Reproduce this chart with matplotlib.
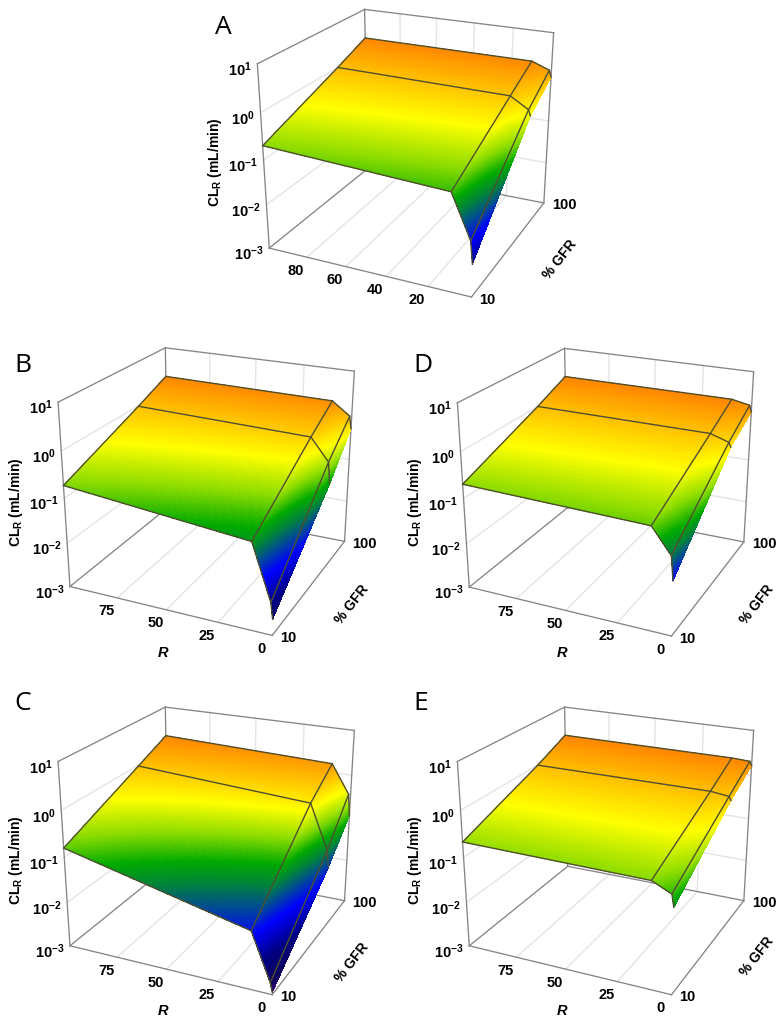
import numpy as np
import matplotlib
matplotlib.use("Agg")
import matplotlib.pyplot as plt
from matplotlib.colors import LinearSegmentedColormap
from mpl_toolkits.mplot3d import proj3d

plt.rcParams['font.family'] = ['Liberation Sans', 'DejaVu Sans']
plt.rcParams['font.weight'] = 'bold'
plt.rcParams['mathtext.fontset'] = 'custom'
plt.rcParams['mathtext.rm'] = 'Liberation Sans:bold'
plt.rcParams['mathtext.bf'] = 'Liberation Sans:bold'
plt.rcParams['mathtext.it'] = 'Liberation Sans:italic:bold'
plt.rcParams['mathtext.default'] = 'bf'

# mesh nodes of every surface
gfr_nodes = [100, 73, 10]
r_nodes = [100, 10, 1, 0]

# log10(CL_R) at the nodes, one row per R node, columns follow gfr_nodes
log_cl_a = [[0.32, 0.00, -0.70], [0.31, -0.05, -0.89], [0.16, -0.29, -1.81], [0.01, -0.42, -2.29]]
log_cl_b = [[0.32, -0.01, -0.73], [0.28, -0.11, -1.12], [-0.01, -0.60, -2.30], [-0.29, -1.08, -2.65]]
log_cl_c = [[0.32, -0.02, -0.80], [0.20, -0.26, -1.74], [-0.44, -1.25, -2.75], [-0.93, -1.63, -2.95]]
log_cl_d = [[0.33, 0.00, -0.69], [0.33, -0.02, -0.79], [0.25, -0.15, -1.31], [0.10, -0.25, -1.82]]
log_cl_e = [[0.33, 0.00, -0.67], [0.33, 0.00, -0.71], [0.31, -0.05, -0.90], [0.22, -0.13, -1.16]]

panel_names = ['A', 'B', 'C', 'D', 'E']
panel_values = [log_cl_a, log_cl_b, log_cl_c, log_cl_d, log_cl_e]

z_ticks = [1, 0, -1, -2, -3]
r_ticks_a = [20, 40, 60, 80]
r_ticks_other = [0, 25, 50, 75]
gfr_ticks = [10, 100]

# left, bottom of the square axes in pixels from the top left corner
AX_SIZE = 346.8
panel_origin = {'A': (44.8 + 190, 318.4), 'B': (35.5, 656.8), 'C': (35.5, 1016.1),
                'D': (434.8, 657.4), 'E': (434.8, 1016.1)}
letter_pos = {'A': (223, 27), 'B': (23, 365), 'C': (23, 704), 'D': (423, 365), 'E': (421, 704)}
cl_pos = {'A': (215, 162), 'B': (16, 502), 'C': (16, 860), 'D': (415, 502), 'E': (415, 860)}
gfr_pos = {'A': (560, 260), 'B': (352, 605), 'C': (352, 963), 'D': (757, 605), 'E': (757, 957)}
r_pos = {'B': (163, 653), 'C': (163, 1011), 'D': (562, 653), 'E': (562, 1011)}

W, H = 777, 1020
FRAME = '#858585'
GRID = '#e4e4e4'
MESH = '#4f4f30'

height_map = LinearSegmentedColormap.from_list('height', [
    (0.00, (70/255, 0, 130/255)),
    (0.0625, (15/255, 0, 90/255)),
    (0.175, (0, 0, 130/255)),
    (0.30, (0, 0, 1)),
    (0.3625, (0, 60/255, 170/255)),
    (0.44, (0, 130/255, 60/255)),
    (0.50, (0, 170/255, 0)),
    (0.575, (140/255, 220/255, 0)),
    (0.6625, (1, 1, 0)),
    (0.75, (1, 190/255, 0)),
    (0.84, (1, 128/255, 0)),
    (1.00, (1, 100/255, 0)),
])


def refine(nodes, n=70):
    # extra positions between nodes, only so the height colours come out smooth
    return np.linspace(0, len(nodes) - 1, (len(nodes) - 1) * n + 1)


def fine_surface(values):
    values = np.array(values, float)
    ri = refine(r_nodes)
    gi = refine(gfr_nodes)
    col = np.array([np.interp(ri, np.arange(len(r_nodes)), values[:, j]) for j in range(len(gfr_nodes))]).T
    z = np.array([np.interp(gi, np.arange(len(gfr_nodes)), row) for row in col])
    g = np.interp(gi, np.arange(len(gfr_nodes)), gfr_nodes)
    r = np.interp(ri, np.arange(len(r_nodes)), r_nodes)
    gg, rr = np.meshgrid(g, r)
    return gg, rr, z


def put_label(ax, x, y, z, text, dx, dy, **kw):
    u, v, _ = proj3d.proj_transform(x, y, z, ax.get_proj())
    ax.annotate(text, xy=(u, v), xytext=(dx * 0.72, -dy * 0.72), textcoords='offset points',
                fontsize=10.5, va='center', zorder=6, **kw)


def draw_box(ax, r_ticks):
    # back walls and floor
    for z in z_ticks[1:-1]:
        ax.plot([10, 100], [100, 100], [z, z], color=GRID, lw=1, zorder=1)
        ax.plot([100, 100], [100, 0], [z, z], color=GRID, lw=1, zorder=1)
    for r in r_ticks:
        if r == 0:
            continue
        ax.plot([100, 100], [r, r], [-3, 1], color=GRID, lw=1, zorder=1)
        ax.plot([10, 100], [r, r], [-3, -3], color=GRID, lw=1, zorder=1)
    edges = [([10, 100], [0, 0], [-3, -3]), ([10, 10], [0, 100], [-3, -3]),
             ([10, 100], [100, 100], [-3, -3]), ([100, 100], [0, 100], [-3, -3]),
             ([10, 10], [100, 100], [-3, 1]), ([100, 100], [100, 100], [-3, 1]),
             ([100, 100], [0, 0], [-3, 1]), ([10, 100], [100, 100], [1, 1]),
             ([100, 100], [0, 100], [1, 1])]
    for xs, ys, zs in edges:
        ax.plot(xs, ys, zs, color=FRAME, lw=0.95, zorder=2)


def draw_panel(fig, name, values):
    left, bottom = panel_origin[name]
    ax = fig.add_axes([left / W, 1 - bottom / H, AX_SIZE / W, AX_SIZE / H], projection='3d')
    ax.set_xlim(10, 100, view_margin=0)
    ax.set_ylim(0, 100, view_margin=0)
    ax.set_zlim(-3, 1, view_margin=0)
    ax.view_init(22.513, -155.039)
    ax.set_proj_type('persp', focal_length=0.518)
    ax.set_box_aspect((1, 1.018, 0.905))
    ax.set_axis_off()
    ax.computed_zorder = False

    r_ticks = r_ticks_a if name == 'A' else r_ticks_other
    draw_box(ax, r_ticks)

    gg, rr, zz = fine_surface(values)
    colors = height_map((zz + 3) / 4)
    ax.plot_surface(gg, rr, zz, facecolors=colors, rstride=1, cstride=1, shade=False,
                    linewidth=0, edgecolor='none', antialiased=False, zorder=3)

    values = np.array(values)
    for i, r in enumerate(r_nodes[:-1]):
        ax.plot(gfr_nodes, [r] * 3, values[i], color=MESH, lw=1, zorder=4)
    for j, g in enumerate(gfr_nodes):
        ax.plot([g] * 4, r_nodes, values[:, j], color=MESH, lw=1, zorder=4)

    for z in z_ticks:
        put_label(ax, 10, 100, z, f'$10^{{{z}}}$', -5.5, 5, ha='right')
    for r in r_ticks:
        put_label(ax, 10, r, -3, str(r), -11, 12.5, ha='center')
    for g in gfr_ticks:
        put_label(ax, g, 0, -3, str(g), 8, 1.5, ha='left')

    x, y = letter_pos[name]
    fig.text(x / W, 1 - y / H, name, fontsize=19, family='Open Sans', weight='normal', ha='center', va='center')
    x, y = cl_pos[name]
    fig.text(x / W, 1 - y / H, r'$CL_R$ (mL/min)', fontsize=10, rotation=90, ha='center', va='center')
    x, y = gfr_pos[name]
    fig.text(x / W, 1 - y / H, '% GFR', fontsize=10, rotation=52, ha='center', va='center')
    if name in r_pos:
        x, y = r_pos[name]
        fig.text(x / W, 1 - y / H, 'R', fontsize=10.5, style='italic', ha='center', va='center')


fig = plt.figure(figsize=(7.77, 10.2), dpi=100)
for name, values in zip(panel_names, panel_values):
    draw_panel(fig, name, values)
fig.savefig('out.png', dpi=100)
